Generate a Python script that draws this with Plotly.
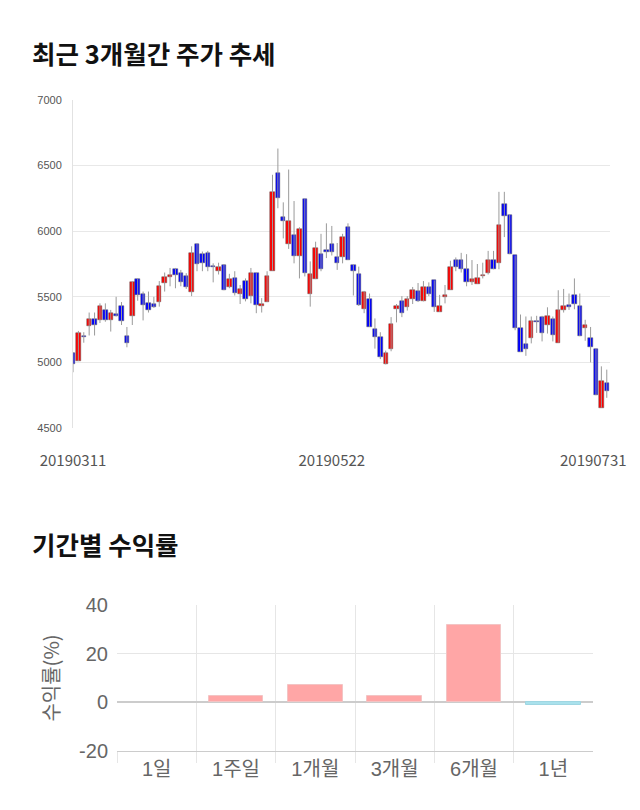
import plotly.graph_objects as go

# ---- candlestick data (trading days 2019-03-11 .. 2019-07-31) ----
opens = [5070, 5010, 5200, 5275, 5330, 5325, 5400, 5325, 5370, 5430,
         5205, 5350, 5635, 5525, 5450, 5445, 5460, 5605, 5650, 5710,
         5680, 5660, 5540, 5905, 5825, 5835, 5735, 5700, 5745, 5575,
         5640, 5525, 5620, 5505, 5680, 5430, 5460, 5700, 6440, 6110,
         5900, 5970, 5810, 6245, 5525, 5635, 5825, 5855, 5900, 5800,
         5800, 6030, 5745, 5675, 5410, 5485, 5255, 5195, 4985, 5100,
         5405, 5470, 5420, 5480, 5545, 5465, 5575, 5625, 5385, 5495,
         5555, 5780, 5780, 5710, 5610, 5600, 5660, 5680, 5780, 5760,
         6205, 6125, 5815, 5265, 5140, 5185, 5315, 5345, 5285, 5330,
         5150, 5400, 5440, 5510, 5430, 5260, 5185, 5105, 4655, 4845]
highs = [5075, 5240, 5230, 5380, 5380, 5450, 5450, 5400, 5500, 5460,
         5270, 5615, 5640, 5540, 5540, 5500, 5620, 5685, 5720, 5720,
         5705, 5680, 5885, 5905, 5845, 5850, 5755, 5760, 5750, 5675,
         5695, 5590, 5640, 5720, 5680, 5490, 5695, 6430, 6630, 6220,
         6470, 6230, 6030, 6245, 5770, 5920, 5980, 6060, 6040, 5910,
         5980, 6060, 5745, 5730, 5545, 5525, 5335, 5230, 5090, 5345,
         5445, 5505, 5505, 5575, 5605, 5620, 5610, 5625, 5515, 5590,
         5775, 5800, 5835, 5825, 5780, 5750, 5760, 5850, 5850, 6300,
         6300, 6125, 5815, 5365, 5350, 5350, 5355, 5355, 5420, 5350,
         5550, 5560, 5525, 5640, 5525, 5325, 5270, 5105, 4970, 4945]
lows = [4925, 5010, 5150, 5205, 5205, 5300, 5310, 5235, 5350, 5285,
        5115, 5285, 5470, 5320, 5380, 5415, 5425, 5540, 5580, 5565,
        5580, 5560, 5505, 5695, 5695, 5695, 5610, 5670, 5550, 5565,
        5510, 5445, 5465, 5450, 5375, 5380, 5460, 5700, 6175, 5945,
        5865, 5755, 5640, 5655, 5425, 5635, 5695, 5795, 5815, 5705,
        5755, 5780, 5510, 5430, 5375, 5270, 5105, 5025, 4985, 5085,
        5305, 5345, 5395, 5445, 5460, 5465, 5505, 5385, 5385, 5450,
        5555, 5695, 5685, 5580, 5590, 5600, 5640, 5670, 5710, 5710,
        5955, 5825, 5245, 5080, 5050, 5145, 5225, 5160, 5220, 5160,
        5150, 5380, 5400, 5405, 5200, 5165, 5000, 4750, 4655, 4730]
closes = [4985, 5225, 5190, 5330, 5285, 5430, 5325, 5375, 5350, 5315,
          5150, 5610, 5510, 5435, 5400, 5420, 5585, 5650, 5665, 5665,
          5610, 5575, 5835, 5750, 5760, 5730, 5730, 5730, 5555, 5635,
          5530, 5560, 5480, 5680, 5435, 5445, 5660, 6300, 6250, 6080,
          6080, 5810, 6015, 5680, 5675, 5870, 5710, 5840, 5840, 5760,
          5955, 5780, 5695, 5440, 5535, 5270, 5195, 5040, 5070, 5290,
          5430, 5375, 5480, 5555, 5465, 5575, 5525, 5420, 5430, 5515,
          5730, 5725, 5710, 5610, 5635, 5640, 5670, 5780, 5710, 6045,
          6115, 5825, 5260, 5080, 5100, 5315, 5305, 5225, 5355, 5210,
          5400, 5430, 5425, 5445, 5200, 5285, 5115, 4750, 4860, 4780]
date_ticks = ["20190311", "20190522", "20190731"]
date_tick_idx = [0, 48, 96.5]
price_ticks = [4500, 5000, 5500, 6000, 6500, 7000]

# ---- period returns ----
periods = ["1일", "1주일", "1개월", "3개월", "6개월", "1년"]
returns = [0.0, 2.7, 7.0, 2.7, 31.6, -1.2]
return_ticks = [-20, 0, 20, 40]
return_tick_text = ["-20", "0", "20", "40"]

idx = list(range(len(opens)))
base = [min(o, c) for o, c in zip(opens, closes)]
height = [abs(c - o) for o, c in zip(opens, closes)]
body_col = ["#ff0000" if c >= o else "#0000ff" for o, c in zip(opens, closes)]

wx, wy = [], []
for i, h, l in zip(idx, highs, lows):
    wx += [i, i, None]
    wy += [l, h, None]

fig = go.Figure()
fig.add_trace(go.Scatter(x=wx, y=wy, mode="lines", line=dict(color="#9a9a9a", width=1),
                         hoverinfo="skip", showlegend=False, cliponaxis=False,
                         xaxis="x", yaxis="y"))
fig.add_trace(go.Bar(x=idx, y=height, base=base, width=0.82,
                     marker=dict(color=body_col, line=dict(color="#5a5a5a", width=0.5)),
                     showlegend=False, cliponaxis=False, xaxis="x", yaxis="y"))

bar_col = ["#ffa6a6" if v >= 0 else "#a9e1ec" for v in returns]
bar_line = ["#f3c4c4" if v >= 0 else "#9fd6e2" for v in returns]
bar_lw = [1 if v != 0 else 0 for v in returns]
fig.add_trace(go.Bar(x=periods, y=returns, width=0.69,
                     marker=dict(color=bar_col, line=dict(color=bar_line, width=bar_lw)),
                     showlegend=False, xaxis="x2", yaxis="y2"))

W, H = 640, 810
fig.update_layout(
    width=W, height=H, margin=dict(l=0, r=0, t=0, b=0, autoexpand=False),
    paper_bgcolor="white", plot_bgcolor="white", bargap=0,
    xaxis=dict(domain=[73 / W, 610 / W], range=[0, 99.6], anchor="y", automargin=False,
               tickmode="array", tickvals=date_tick_idx, ticktext=date_ticks,
               showgrid=False, zeroline=False, showline=False, ticks="", ticklabelstandoff=22,
               tickfont=dict(family="Noto Sans CJK KR", size=15, color="#555555")),
    yaxis=dict(domain=[1 - 428 / H, 1 - 100 / H], range=[4500, 7000], anchor="x", automargin=False,
               tickmode="array", tickvals=price_ticks,
               showgrid=True, gridcolor="#e8e8e8", gridwidth=1, zeroline=False,
               showline=True, linecolor="#e2e2e2", ticks="", ticklabelstandoff=8,
               tickfont=dict(family="Liberation Sans", size=11, color="#555555")),
    xaxis2=dict(domain=[117 / W, 593 / W], anchor="y2", type="category", automargin=False,
                tickson="boundaries", showgrid=True, gridcolor="#e6e6e6",
                ticks="outside", ticklen=11, tickcolor="#e6e6e6",
                showline=True, linecolor="#cccccc", zeroline=False,
                tickfont=dict(family="Liberation Sans, Noto Sans CJK KR", size=20, color="#666666")),
    yaxis2=dict(domain=[1 - 751 / H, 1 - 605 / H], range=[-20, 40], anchor="x2", automargin=False,
                tickmode="array", tickvals=return_ticks, ticktext=return_tick_text,
                showgrid=True, gridcolor="#e6e6e6", zeroline=True, zerolinecolor="#cccccc",
                zerolinewidth=1.5, showline=False, ticks="", ticklabelstandoff=8,
                title=dict(text="수익률(%)", standoff=14,
                           font=dict(family="Noto Sans CJK KR", size=20, color="#666666")),
                tickfont=dict(family="Liberation Sans", size=20, color="#666666")),
    annotations=[
        dict(text="최근 3개월간 주가 추세", xref="paper", yref="paper", x=30 / W, y=1 - 52 / H,
             xanchor="left", yanchor="middle", showarrow=False,
             font=dict(family="Noto Sans CJK KR", size=25.5, color="#111111", weight="bold")),
        dict(text="기간별 수익률", xref="paper", yref="paper", x=30 / W, y=1 - 543 / H,
             xanchor="left", yanchor="middle", showarrow=False,
             font=dict(family="Noto Sans CJK KR", size=25.5, color="#111111", weight="bold")),
    ],
)

fig.write_html("out.html")
